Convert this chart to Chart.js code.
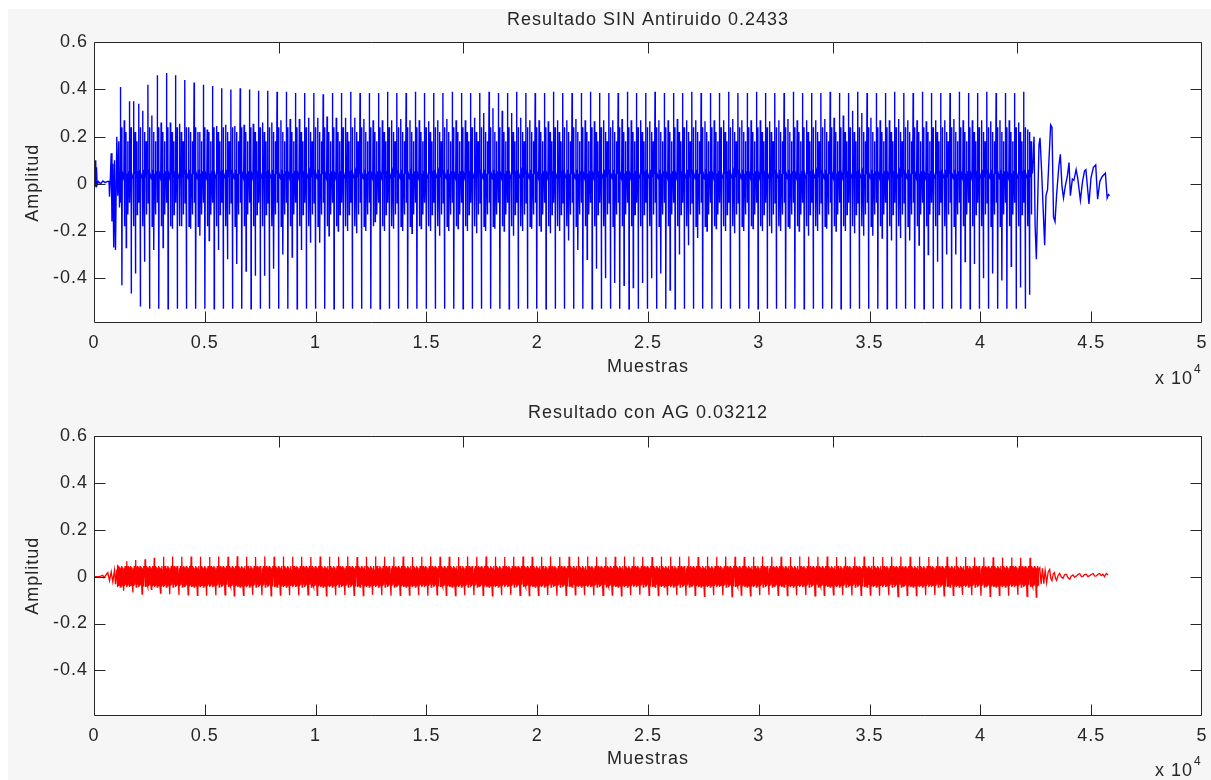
<!DOCTYPE html>
<html>
<head>
<meta charset="utf-8">
<script src="https://cdn.jsdelivr.net/npm/chart.js@4.4.1/dist/chart.umd.min.js"></script>
<style>
  html, body { margin: 0; padding: 0; background: #ffffff; width: 1211px; height: 780px; overflow: hidden; }
  #fig { position: absolute; left: 8px; top: 9px; width: 1203px; height: 771px; background: #f6f6f6; }
  canvas { position: absolute; left: 0; }
  #topPlot { top: 0; }
  #bottomPlot { top: 390px; }
</style>
</head>
<body>
<div id="fig"></div>
<canvas id="topPlot" width="1211" height="390"></canvas>
<canvas id="bottomPlot" width="1211" height="390"></canvas>
<script>
// ---- axis ticks -------------------------------------------------------
const xTickStep = 5000;                       // samples between labelled ticks
const yTickValues = [-0.4, -0.2, 0, 0.2, 0.4, 0.6];
const topEdgeTicks = [8333, 16667, 25000, 33333, 41667];

// ---- pitch cycles ------------------------------------------------------
const cyclePeriod = 416;                      // samples per cycle
const blueOnset = 1180;                       // first cycle of the raw signal
const redOnset = 1043;                        // first cycle of the filtered signal

// raw signal (no noise cancelling): per-cycle extremes
const blueHi = [
  0.41,0.35,0.34,0.42,0.46,0.47,0.46,0.44,0.43,0.42,
  0.415,0.405,0.40,0.405,0.40,0.395,0.395,0.39,0.39,0.385,
  0.385,0.385,0.38,0.385,0.385,0.39,0.385,0.385,0.385,0.39,
  0.385,0.385,0.39,0.385,0.385,0.385,0.39,0.385,0.385,0.385,
  0.39,0.385,0.385,0.39,0.385,0.385,0.385,0.39,0.385,0.385,
  0.385,0.39,0.385,0.385,0.385,0.39,0.385,0.385,0.39,0.385,
  0.385,0.385,0.39,0.385,0.385,0.385,0.39,0.385,0.385,0.39,
  0.385,0.385,0.385,0.39,0.385,0.385,0.385,0.39,0.385,0.385,
  0.39,0.385,0.385,0.385,0.39,0.385,0.385,0.39,0.385,0.385,
  0.385,0.39,0.385,0.385,0.39,0.385,0.385,0.385,0.39
];
const blueMid = [
  0.27,0.35,0.31,0.29,0.26,0.26,0.255,0.24,0.22,0.23,
  0.245,0.25,0.245,0.25,0.255,0.26,0.26,0.27,0.275,0.275,
  0.28,0.28,0.285,0.28,0.28,0.28,0.275,0.27,0.27,0.27,
  0.275,0.27,0.27,0.265,0.27,0.275,0.27,0.27,0.28,0.30,
  0.32,0.31,0.30,0.28,0.27,0.27,0.265,0.27,0.27,0.275,
  0.27,0.265,0.27,0.27,0.275,0.27,0.27,0.265,0.27,0.27,
  0.275,0.27,0.27,0.265,0.27,0.27,0.275,0.27,0.27,0.27,
  0.265,0.27,0.275,0.27,0.27,0.27,0.275,0.28,0.29,0.31,
  0.30,0.28,0.27,0.27,0.275,0.27,0.27,0.265,0.27,0.27,
  0.275,0.27,0.27,0.27,0.265,0.27,0.27,0.26,0.23
];
const blueLo = [
  -0.43,-0.465,-0.52,-0.53,-0.53,-0.53,-0.53,-0.53,-0.53,-0.53,
  -0.53,-0.53,-0.53,-0.53,-0.53,-0.53,-0.53,-0.53,-0.53,-0.53,
  -0.53,-0.53,-0.53,-0.53,-0.53,-0.53,-0.53,-0.53,-0.53,-0.53,
  -0.53,-0.53,-0.53,-0.53,-0.53,-0.53,-0.53,-0.53,-0.53,-0.53,
  -0.53,-0.53,-0.53,-0.53,-0.53,-0.53,-0.53,-0.53,-0.53,-0.53,
  -0.53,-0.53,-0.53,-0.53,-0.53,-0.53,-0.53,-0.53,-0.53,-0.53,
  -0.53,-0.53,-0.53,-0.53,-0.53,-0.53,-0.53,-0.53,-0.53,-0.53,
  -0.53,-0.53,-0.53,-0.53,-0.53,-0.53,-0.53,-0.53,-0.53,-0.53,
  -0.53,-0.53,-0.53,-0.53,-0.53,-0.53,-0.53,-0.53,-0.53,-0.53,
  -0.53,-0.53,-0.53,-0.53,-0.53,-0.53,-0.53,-0.53,-0.53
];
const blueLo2 = [
  -0.27,-0.38,-0.33,-0.28,-0.27,-0.19,-0.18,-0.19,-0.22,-0.24,
  -0.28,-0.32,-0.34,-0.37,-0.39,-0.39,-0.36,-0.30,-0.31,-0.28,
  -0.25,-0.25,-0.22,-0.20,-0.20,-0.21,-0.20,-0.16,-0.20,-0.19,
  -0.20,-0.21,-0.19,-0.20,-0.22,-0.20,-0.19,-0.20,-0.21,-0.20,
  -0.19,-0.20,-0.22,-0.20,-0.19,-0.20,-0.21,-0.20,-0.24,-0.28,
  -0.32,-0.36,-0.40,-0.42,-0.43,-0.44,-0.42,-0.40,-0.38,-0.45,
  -0.30,-0.26,-0.23,-0.20,-0.19,-0.20,-0.21,-0.20,-0.19,-0.20,
  -0.21,-0.20,-0.19,-0.20,-0.22,-0.20,-0.19,-0.20,-0.20,-0.21,
  -0.22,-0.22,-0.23,-0.24,-0.23,-0.24,-0.26,-0.30,-0.33,-0.30,
  -0.30,-0.33,-0.34,-0.40,-0.38,-0.41,-0.35,-0.44,-0.47
];
// onset before the first full cycle, and the decay after the last one
const blueHeadX = [0,40,77,95,113,140,200,300,400,500,600,680,700,740,776,810,849,890,925,970,1029,1074,1119,1150];
const blueHeadY = [0.01,0,0.1,-0.01,0.07,-0.005,0.01,0,0.012,0.005,0.01,0.01,-0.055,0.03,0.13,-0.16,0.085,-0.27,0.1,-0.28,0.2,-0.05,0.18,-0.1];
const blueTailX = [42420,42470,42525,42645,42690,42760,42900,42960,43030,43170,43230,43300,43367,43440,43540,43608,43680,43750,43830,43920,44000,44060,44150,44220,44320,44390,44512,44610,44700,44760,44900,44990,45100,45203,45290,45390,45490,45640,45720,45780,45833];
const blueTailY = [0.2,-0.18,-0.32,0.165,0.195,0.06,-0.26,-0.05,-0.025,0.25,0.24,-0.14,-0.16,-0.045,0.075,0.125,-0.01,-0.06,-0.01,0.03,0.09,-0.05,0.02,0.015,0.06,0.025,-0.07,0.01,0.055,0.06,-0.085,0.025,0.07,0.08,-0.065,0.01,0.03,0.045,-0.06,-0.045,-0.05];

// filtered signal (AG): per-cycle extremes
const redHi = [
  0.05,0.065,0.07,0.074,0.08,0.084,0.085,0.084,0.085,0.084,
  0.083,0.085,0.084,0.086,0.084,0.083,0.085,0.084,0.085,0.084,
  0.084,0.083,0.085,0.084,0.084,0.085,0.083,0.084,0.085,0.084,
  0.084,0.085,0.083,0.084,0.085,0.084,0.084,0.083,0.085,0.084,
  0.085,0.084,0.083,0.084,0.085,0.084,0.084,0.085,0.083,0.084,
  0.084,0.085,0.084,0.083,0.084,0.085,0.084,0.084,0.083,0.085,
  0.084,0.084,0.085,0.083,0.084,0.084,0.085,0.084,0.083,0.084,
  0.085,0.084,0.084,0.083,0.085,0.084,0.084,0.085,0.083,0.084,
  0.084,0.085,0.084,0.083,0.084,0.085,0.084,0.084,0.083,0.084,
  0.084,0.084,0.083,0.082,0.082,0.082,0.081,0.081,0.08,0.08
];
const redLo = [
  -0.06,-0.068,-0.075,-0.055,-0.07,-0.075,-0.078,-0.078,-0.08,-0.082,
  -0.08,-0.078,-0.082,-0.08,-0.078,-0.08,-0.082,-0.079,-0.08,-0.081,
  -0.078,-0.08,-0.082,-0.08,-0.079,-0.08,-0.081,-0.078,-0.08,-0.082,
  -0.08,-0.079,-0.08,-0.082,-0.078,-0.08,-0.081,-0.08,-0.079,-0.08,
  -0.082,-0.08,-0.078,-0.08,-0.081,-0.08,-0.079,-0.082,-0.08,-0.078,
  -0.08,-0.081,-0.08,-0.079,-0.082,-0.08,-0.078,-0.08,-0.081,-0.08,
  -0.079,-0.082,-0.08,-0.084,-0.08,-0.081,-0.085,-0.079,-0.082,-0.08,
  -0.078,-0.08,-0.081,-0.08,-0.079,-0.082,-0.08,-0.078,-0.08,-0.081,
  -0.08,-0.079,-0.082,-0.08,-0.085,-0.08,-0.081,-0.08,-0.079,-0.082,
  -0.08,-0.078,-0.08,-0.082,-0.084,-0.08,-0.082,-0.078,-0.084,-0.087
];
const redHeadX = [0,248,398,451,623,700,776,849,925,970,1029];
const redHeadY = [0,0,0.005,-0.005,0.017,-0.018,0.02,-0.022,0.027,-0.033,0.03];
const redTailX = [42680,42740,42800,42860,42920,42990,43060,43126,43180,43230,43290,43340,43390,43440,43510,43578,43650,43730,43800,43880,43950,44030,44100,44180,44250,44330,44400,44481,44560,44630,44700,44780,44850,44930,45000,45083,45160,45230,45300,45380,45450,45530,45600,45680,45760];
const redTailY = [0.038,-0.033,0.035,-0.03,0.027,-0.026,0.02,0.03,-0.01,-0.018,0.012,0.017,-0.008,-0.016,0.006,0.013,-0.002,-0.007,0.008,0.01,-0.004,-0.011,0.002,0.007,-0.003,0.002,0.009,0.013,0.0,0.001,0.008,0.01,0.0,0.004,0.009,0.013,0.002,0.003,0.01,0.013,0.004,0.01,-0.001,0.013,0.007];

// waveform inside one cycle: [fraction of the cycle, level or per-cycle key]
// the raw signal swings in short steep strokes separated by quieter stretches
const blueCycleShape = [
  [0.00, 0.05], [0.02, 'hi'], [0.04, -0.08], [0.07, 0.04],
  [0.16, 0.06], [0.18, 0.24], [0.20, 'lo'], [0.23, 0.05],
  [0.40, 0.02], [0.44, 'mid'], [0.47, -0.18], [0.50, 0.04],
  [0.60, 0.06], [0.63, 0.22], [0.66, 'lo2'], [0.69, 0.04],
  [0.80, 0.03], [0.82, 0.18], [0.85, -0.13], [0.88, 0.04],
  [0.97, 0.05]
];
const redCycleShape = [
  [0.00, 0.0], [0.03, 'hi'], [0.07, -0.045], [0.11, 0.04], [0.15, -0.04],
  [0.20, 0.045], [0.25, -0.035], [0.30, 0.04], [0.35, -0.045], [0.40, 0.035],
  [0.45, -0.04], [0.50, 0.045], [0.55, -0.035], [0.60, 0.04], [0.65, -0.03],
  [0.71, 'lo'], [0.76, 0.035], [0.81, -0.04], [0.86, 0.045], [0.91, -0.035],
  [0.96, 0.03]
];

function buildSeries(headX, headY, onset, shape, perCycle, count, tailX, tailY) {
  const pts = headX.map((x, i) => ({ x, y: headY[i] }));
  for (let k = 0; k < count; k++) {
    const start = onset + k * cyclePeriod;
    for (const [f, v] of shape) {
      pts.push({ x: start + f * cyclePeriod, y: typeof v === 'string' ? perCycle[v][k] : v });
    }
  }
  tailX.forEach((x, i) => pts.push({ x, y: tailY[i] }));
  return pts;
}

const blueSeries = buildSeries(blueHeadX, blueHeadY, blueOnset, blueCycleShape,
  { hi: blueHi, mid: blueMid, lo: blueLo, lo2: blueLo2 }, blueHi.length, blueTailX, blueTailY);
const redSeries = buildSeries(redHeadX, redHeadY, redOnset, redCycleShape,
  { hi: redHi, lo: redLo }, redHi.length, redTailX, redTailY);

// ---- look ---------------------------------------------------------------
const FONT_FAMILY = '"Liberation Sans", Arial, Helvetica, sans-serif';
const INK = '#262626';
const TICK_LEN = 11;

// white axes box, frame, inward ticks and the exponent note
const matlabAxes = {
  id: 'matlabAxes',
  beforeDraw(chart) {
    const { ctx, chartArea: a } = chart;
    ctx.letterSpacing = '1px';
    ctx.save();
    ctx.fillStyle = '#ffffff';
    ctx.fillRect(a.left, a.top, a.right - a.left, a.bottom - a.top);
    ctx.restore();
  },
  afterDatasetsDraw(chart, args, opts) {
    const { ctx, chartArea: a, scales: { x, y } } = chart;
    const L = Math.round(a.left) + 0.5, R = Math.round(a.right) - 0.5;
    const T = Math.round(a.top) + 0.5, B = Math.round(a.bottom) - 0.5;
    ctx.save();
    ctx.strokeStyle = INK;
    ctx.lineWidth = 1;
    ctx.beginPath();
    ctx.rect(L, T, R - L, B - T);
    for (let v = xTickStep; v < x.max; v += xTickStep) {
      const px = Math.round(x.getPixelForValue(v)) + 0.5;
      ctx.moveTo(px, B); ctx.lineTo(px, B - TICK_LEN);
    }
    for (const v of topEdgeTicks) {
      const px = Math.round(x.getPixelForValue(v)) + 0.5;
      ctx.moveTo(px, T); ctx.lineTo(px, T + TICK_LEN);
    }
    for (const v of yTickValues) {
      const py = Math.round(y.getPixelForValue(v)) + 0.5;
      ctx.moveTo(L, py); ctx.lineTo(L + TICK_LEN, py);
      ctx.moveTo(R, py); ctx.lineTo(R - TICK_LEN, py);
    }
    ctx.stroke();
    // "x 10^4" multiplier under the right end of the x axis
    ctx.fillStyle = INK;
    ctx.textBaseline = 'alphabetic';
    ctx.textAlign = 'left';
    ctx.font = '18px ' + FONT_FAMILY;
    const base = a.bottom + opts.expOffset;
    const x0 = a.right - 47;
    ctx.fillText('x 10', x0, base);
    const w = ctx.measureText('x 10').width;
    ctx.font = '12px ' + FONT_FAMILY;
    ctx.fillText('4', x0 + w + 1, base - 11);
    ctx.restore();
  }
};

function makeChart(canvasId, title, series, color, lineWidth, geom) {
  const tickFont = { family: FONT_FAMILY, size: 18 };
  return new Chart(document.getElementById(canvasId), {
    type: 'line',
    data: {
      datasets: [{
        data: series,
        borderColor: color,
        borderWidth: lineWidth,
        pointRadius: 0,
        tension: 0,
        fill: false
      }]
    },
    plugins: [matlabAxes],
    options: {
      responsive: false,
      animation: false,
      parsing: false,
      normalized: true,
      devicePixelRatio: 1,
      layout: { padding: { left: 0, right: 9, top: 0, bottom: 0 } },
      plugins: {
        legend: { display: false },
        tooltip: { enabled: false },
        title: {
          display: true,
          text: title,
          fullSize: false,
          color: INK,
          font: { family: FONT_FAMILY, size: 18, weight: 'normal', lineHeight: 1.2 },
          padding: geom.titlePad
        },
        matlabAxes: { expOffset: geom.expOffset }
      },
      scales: {
        x: {
          type: 'linear',
          min: 0,
          max: 50000,
          grid: { display: false, drawTicks: false },
          border: { display: false },
          ticks: {
            stepSize: xTickStep,
            autoSkip: false,
            maxRotation: 0,
            padding: geom.xTickPad,
            color: INK,
            font: tickFont,
            callback: v => String(v / 10000)
          },
          title: {
            display: true,
            text: 'Muestras',
            color: INK,
            font: { family: FONT_FAMILY, size: 18, lineHeight: 1.2 },
            padding: { top: 0, bottom: geom.xTitlePad }
          },
          afterFit: s => { s.height = geom.xHeight; s.paddingLeft = 0; s.paddingRight = 0; }
        },
        y: {
          min: geom.yMin,
          max: 0.6,
          grid: { display: false, drawTicks: false },
          border: { display: false },
          afterBuildTicks: s => { s.ticks = yTickValues.map(v => ({ value: v })); },
          ticks: {
            padding: 6,
            color: INK,
            font: tickFont,
            callback: v => String(Math.round(v * 10) / 10)
          },
          title: {
            display: true,
            text: 'Amplitud',
            color: INK,
            font: { family: FONT_FAMILY, size: 18, lineHeight: 1.2 },
            padding: { top: 22, bottom: 0 }
          },
          afterFit: s => { s.width = 94; s.paddingTop = 0; s.paddingBottom = 0; }
        }
      }
    }
  });
}

makeChart('topPlot', 'Resultado SIN Antiruido 0.2433', blueSeries, '#0000ff', 1.4, {
  titlePad: { top: 9.5, bottom: 11.2 },
  xHeight: 67, xTickPad: 9, xTitlePad: 12, expOffset: 61, yMin: -0.59
});
makeChart('bottomPlot', 'Resultado con AG 0.03212', redSeries, '#ff0000', 1.3, {
  titlePad: { top: 12.5, bottom: 11.6 },
  xHeight: 64, xTickPad: 9, xTitlePad: 10, expOffset: 60, yMin: -0.594
});
</script>
</body>
</html>
